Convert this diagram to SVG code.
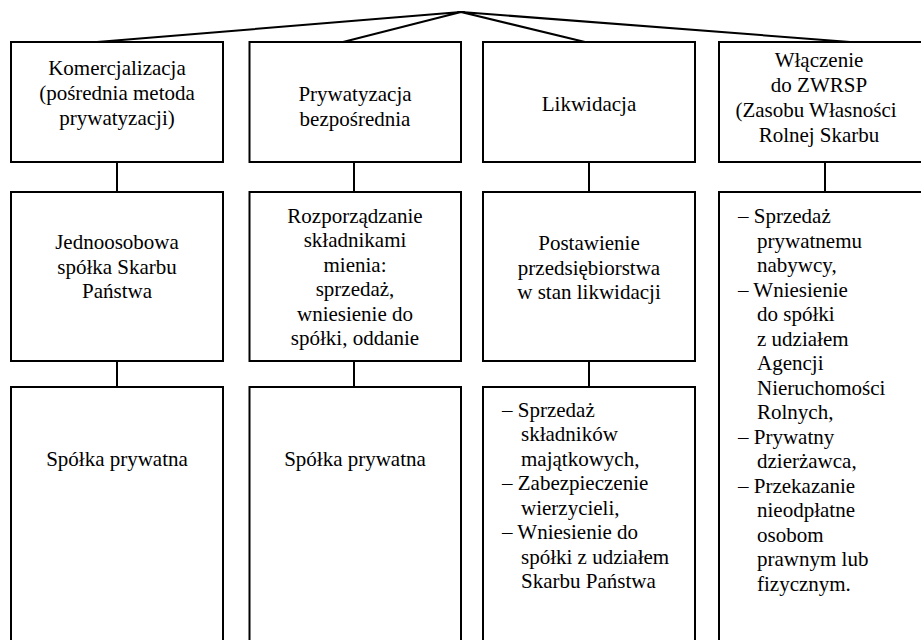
<svg xmlns="http://www.w3.org/2000/svg" width="921" height="640" viewBox="0 0 921 640">
<style>
.box{fill:#fff;stroke:#000;stroke-width:2}
.ln{stroke:#000;stroke-width:2;fill:none}
.c{text-anchor:middle}
</style>
<rect width="921" height="640" fill="#fff"/>
<g id="connectors">
<path class="ln" d="M461,12 L97,42 M461,12 L343,42 M461,12 L585,42 M461,12 L850,42"/>
<path class="ln" d="M117,162 V192 M117,361 V387 M354,162 V192 M354,361 V387 M589,162 V192 M589,361 V387 M825,162 V192"/>
</g>
<g font-family="Liberation Serif, Times New Roman, serif" font-size="21" fill="#000">
<g id="n1">
<rect class="box" x="11" y="42" width="212" height="120"/>
<text class="c" x="117" y="75">Komercjalizacja</text>
<text class="c" x="117" y="100">(pośrednia metoda</text>
<text class="c" x="117" y="125">prywatyzacji)</text>
</g>
<g id="n2">
<rect class="box" x="249.5" y="42" width="211.5" height="120"/>
<text class="c" x="355" y="101">Prywatyzacja</text>
<text class="c" x="355" y="126">bezpośrednia</text>
</g>
<g id="n3">
<rect class="box" x="483" y="42" width="212" height="120"/>
<text class="c" x="589" y="111">Likwidacja</text>
</g>
<g id="n4">
<rect class="box" x="719" y="42" width="212" height="120"/>
<text class="c" x="819" y="67">Włączenie</text>
<text class="c" x="819" y="92">do ZWRSP</text>
<text class="c" x="816" y="117">(Zasobu Własności</text>
<text class="c" x="819" y="142">Rolnej Skarbu</text>
</g>
<g id="n5">
<rect class="box" x="11" y="192" width="212" height="169"/>
<text class="c" x="117" y="249">Jednoosobowa</text>
<text class="c" x="117" y="273.5">spółka Skarbu</text>
<text class="c" x="117" y="298">Państwa</text>
</g>
<g id="n6">
<rect class="box" x="249.5" y="192" width="211.5" height="169"/>
<text class="c" x="355" y="222.5">Rozporządzanie</text>
<text class="c" x="355" y="247">składnikami</text>
<text class="c" x="355" y="271.5">mienia:</text>
<text class="c" x="355" y="296">sprzedaż,</text>
<text class="c" x="355" y="320.5">wniesienie do</text>
<text class="c" x="355" y="345">spółki, oddanie</text>
</g>
<g id="n7">
<rect class="box" x="483" y="192" width="212" height="169"/>
<text class="c" x="589" y="250">Postawienie</text>
<text class="c" x="589" y="274.5">przedsiębiorstwa</text>
<text class="c" x="589" y="299">w stan likwidacji</text>
</g>
<g id="n8">
<rect class="box" x="719" y="192" width="212" height="460"/>
<text x="738" y="223">– Sprzedaż</text>
<text x="757" y="247.5">prywatnemu</text>
<text x="757" y="272">nabywcy,</text>
<text x="738" y="296.5">– Wniesienie</text>
<text x="757" y="321">do spółki</text>
<text x="757" y="345.5">z udziałem</text>
<text x="757" y="370">Agencji</text>
<text x="757" y="394.5">Nieruchomości</text>
<text x="757" y="419">Rolnych,</text>
<text x="738" y="443.5">– Prywatny</text>
<text x="757" y="468">dzierżawca,</text>
<text x="738" y="492.5">– Przekazanie</text>
<text x="757" y="517">nieodpłatne</text>
<text x="757" y="541.5">osobom</text>
<text x="757" y="566">prawnym lub</text>
<text x="757" y="590.5">fizycznym.</text>
</g>
<g id="n9">
<rect class="box" x="11" y="387" width="212" height="265"/>
<text class="c" x="117" y="466">Spółka prywatna</text>
</g>
<g id="n10">
<rect class="box" x="249.5" y="387" width="211.5" height="265"/>
<text class="c" x="355" y="466">Spółka prywatna</text>
</g>
<g id="n11">
<rect class="box" x="483" y="387" width="212" height="265"/>
<text x="502" y="416.5">– Sprzedaż</text>
<text x="521" y="441">składników</text>
<text x="521" y="465.5">majątkowych,</text>
<text x="502" y="490">– Zabezpieczenie</text>
<text x="521" y="514.5">wierzycieli,</text>
<text x="502" y="539">– Wniesienie do</text>
<text x="521" y="563.5">spółki z udziałem</text>
<text x="521" y="588">Skarbu Państwa</text>
</g>
</g>
</svg>
